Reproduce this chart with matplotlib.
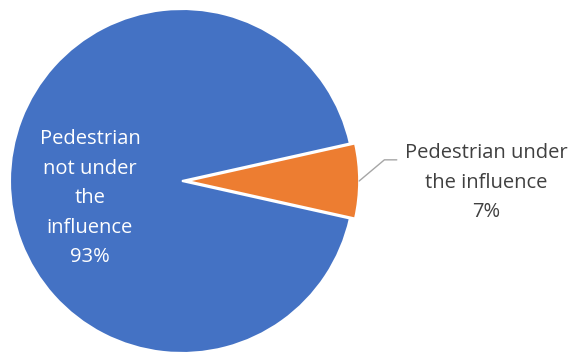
import matplotlib.pyplot as plt

labels = ["Pedestrian\nnot under\nthe\ninfluence", "Pedestrian under\nthe influence"]
shares = [93, 7]
colors = ["#4472C4", "#ED7D31"]

fig = plt.figure(figsize=(5.71, 3.53), dpi=100)
ax = fig.add_axes([10 / 571, 0.0, 344 / 571, 344 / 353])

wedges, _ = ax.pie(shares, colors=colors, startangle=12.6, explode=[0, 0.03],
                   wedgeprops=dict(edgecolor="white", linewidth=1.5))
ax.set_xlim(-1, 1)
ax.set_ylim(-1, 1)
ax.set_aspect("equal")

# inside label for the big slice
ax.text(-0.535, -0.1, f"{labels[0]}\n{shares[0]}%", ha="center", va="center",
        color="white", fontsize=14.5, linespacing=1.63, family="Open Sans")

# outside label with leader line for the small slice
ax.annotate(f"{labels[1]}\n{shares[1]}%", xy=(1.03, 0.0), xytext=(1.77, -0.01),
            ha="center", va="center", color="#404040", fontsize=14.5, linespacing=1.63,
            family="Open Sans", annotation_clip=False,
            arrowprops=dict(arrowstyle="-", color="#A6A6A6", lw=1,
                            connectionstyle="angle,angleA=0,angleB=40,rad=0",
                            shrinkA=4, shrinkB=0, relpos=(0.0, 0.79)))

fig.savefig("out.png", dpi=100)
